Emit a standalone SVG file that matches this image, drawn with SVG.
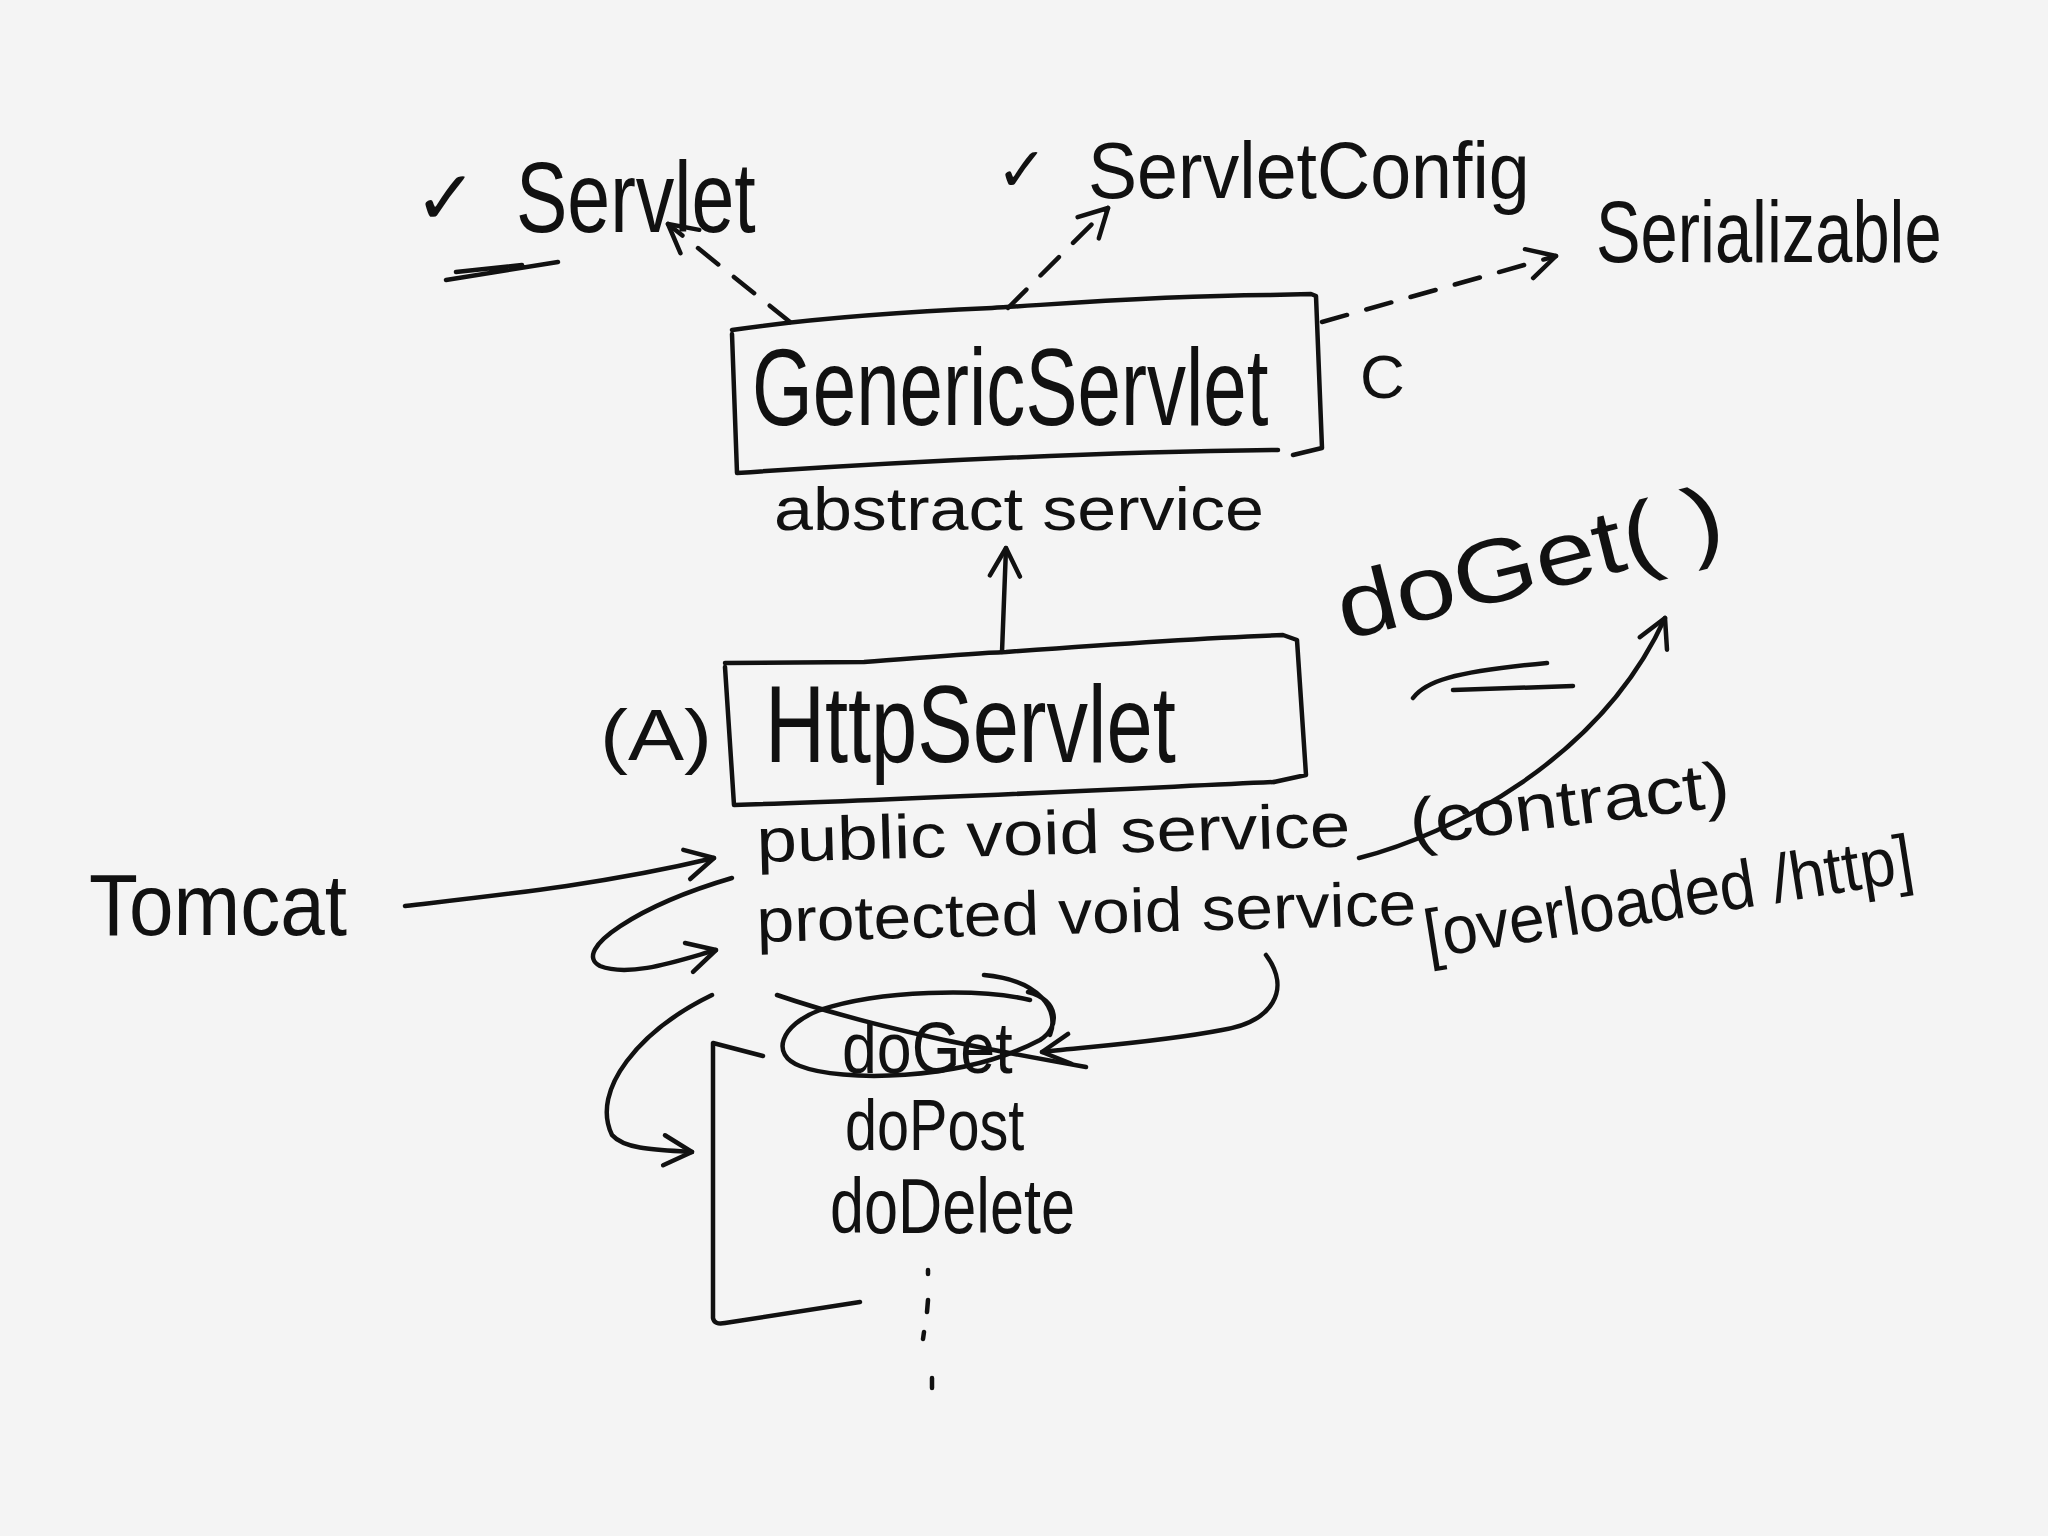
<svg xmlns="http://www.w3.org/2000/svg" width="2048" height="1536" viewBox="0 0 2048 1536">
<style>
.hw{font-family:'Liberation Sans',Arial,sans-serif;fill:#111;}
.sym{font-family:'DejaVu Sans','Liberation Sans',sans-serif;fill:#111;}
.ln{fill:none;stroke:#111;stroke-width:4.5;stroke-linecap:round;stroke-linejoin:round;}
.dash{stroke-dasharray:26 20;}
</style>
<defs>
<marker id="ah" viewBox="0 0 40 40" refX="36" refY="20" markerWidth="40" markerHeight="40" markerUnits="userSpaceOnUse" orient="auto">
<path d="M8 5 L36 20 L8 35" fill="none" stroke="#111" stroke-width="4.5" stroke-linecap="round" stroke-linejoin="round"/>
</marker>
</defs>
<rect x="0" y="0" width="2048" height="1536" fill="#f4f4f4"/>

<g id="servlet">
<text class="sym" x="414" y="224" font-size="76">✓</text>
<text class="hw" font-size="100" transform="translate(516 232) scale(0.77 1)">Servlet</text>
<path class="ln" d="M446 280 L558 262 M456 272 L522 265"/>
</g>

<g id="servletconfig">
<text class="sym" x="996" y="191" font-size="62">✓</text>
<text class="hw" font-size="80" transform="translate(1088 198) scale(0.92 1)">ServletConfig</text>
</g>

<g id="serializable">
<text class="hw" font-size="88" transform="translate(1596 262) scale(0.76 1)">Serializable</text>
</g>

<g id="genericservlet">
<path class="ln" d="M732 330 C 800 320, 900 312, 992 308 C 1060 304, 1150 296, 1268 295 L1311 294 L1316 296 L1322 448 L1293 455"/>
<path class="ln" d="M732 334 L737 473 C 900 462, 1100 452, 1278 450"/>
<text class="hw" font-size="110" transform="translate(752 425) scale(0.71 1)">GenericServlet</text>
<text class="hw" x="1360" y="398" font-size="62">C</text>
<text class="hw" x="774" y="530" font-size="62" textLength="490" lengthAdjust="spacingAndGlyphs">abstract service</text>
</g>

<g id="httpservlet">
<path class="ln" d="M725 663 L864 662 C 920 658, 960 654, 1006 652 C 1100 645, 1200 638, 1283 635 L1297 640 L1306 775 L1274 782"/>
<path class="ln" d="M725 667 L734 805 C 900 800, 1100 790, 1274 782"/>
<text class="hw" x="600" y="760" font-size="72" textLength="112" lengthAdjust="spacingAndGlyphs">(A)</text>
<text class="hw" font-size="110" transform="translate(765 762) scale(0.755 1)">HttpServlet</text>
</g>

<g id="doget-note">
<text class="hw" x="1345" y="640" font-size="90" textLength="395" lengthAdjust="spacingAndGlyphs" transform="rotate(-14 1345 640)">doGet( )</text>
<path class="ln" d="M1413 698 C 1425 682, 1450 672, 1547 663 M1453 690 L1573 686"/>
</g>

<g id="tomcat">
<text class="hw" font-size="88" transform="translate(89 935) scale(0.91 1)">Tomcat</text>
</g>

<g id="public-service">
<text class="hw" x="757" y="862" font-size="62" textLength="594" lengthAdjust="spacingAndGlyphs" transform="rotate(-1.5 757 862)">public void service</text>
<text class="hw" x="1412" y="845" font-size="65" textLength="322" lengthAdjust="spacingAndGlyphs" transform="rotate(-7 1412 845)">(contract)</text>
</g>

<g id="protected-service">
<text class="hw" x="757" y="942" font-size="62" textLength="660" lengthAdjust="spacingAndGlyphs" transform="rotate(-1.5 757 942)">protected void service</text>
<text class="hw" font-size="68" transform="translate(1428 958) rotate(-9) scale(0.94 1)">[overloaded /http]</text>
</g>

<g id="methods">
<path class="ln" d="M763 1056 L713 1043 L713 1318 Q714 1325 725 1323 L860 1302"/>
<path class="ln" d="M1030 1000 C 980 988, 880 990, 820 1010 C 780 1025, 770 1055, 800 1066 C 840 1082, 960 1082, 1040 1040 C 1060 1028, 1060 1000, 1028 992 M 984 975 C 1040 980, 1060 1010, 1050 1035"/>
<path class="ln" d="M777 995 C 880 1030, 990 1050, 1086 1067"/>
<text class="hw" font-size="72" transform="translate(842 1073) scale(0.87 1)">doGet</text>
<text class="hw" font-size="72" transform="translate(845 1150) scale(0.8 1)">doPost</text>
<text class="hw" font-size="78" transform="translate(830 1233) scale(0.785 1)">doDelete</text>
<path class="ln" d="M928 1270 L928 1274 M928 1300 L927 1312 M924 1332 L923 1339 M932 1378 L932 1388"/>
</g>

<g id="connectors">
<path class="ln dash" d="M790 322 L668 224" marker-end="url(#ah)"/>
<path class="ln dash" d="M1008 308 L1108 208" marker-end="url(#ah)"/>
<path class="ln dash" d="M1322 322 L1556 256" marker-end="url(#ah)"/>
<path class="ln" d="M1002 652 L1006 548" marker-end="url(#ah)"/>
<path class="ln" d="M405 906 C 500 895, 600 885, 714 858" marker-end="url(#ah)"/>
<path class="ln" d="M732 878 C 640 905, 570 950, 600 966 C 630 978, 680 960, 716 950" marker-end="url(#ah)"/>
<path class="ln" d="M712 995 C 640 1030, 590 1090, 612 1135 C 625 1150, 660 1150, 692 1152" marker-end="url(#ah)"/>
<path class="ln" d="M1266 955 C 1292 990, 1272 1022, 1222 1030 C 1160 1042, 1095 1046, 1042 1052" marker-end="url(#ah)"/>
<path class="ln" d="M1359 858 C 1450 835, 1600 760, 1665 618" marker-end="url(#ah)"/>
</g>
</svg>
